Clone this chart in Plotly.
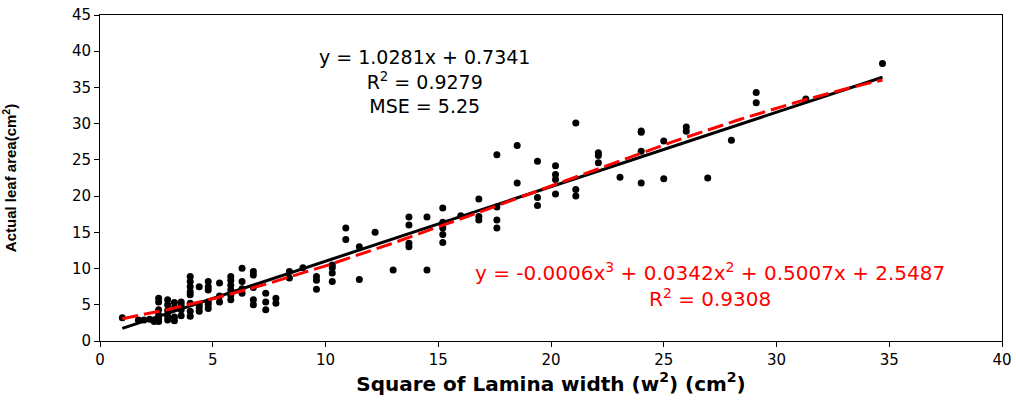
import numpy as np
import plotly.graph_objects as go

# Observed data: square of lamina width (w^2, cm^2) vs actual leaf area (cm^2)
w2 = [0.99,
      1.7, 1.95, 2.2, 2.4, 2.6, 2.6,
      2.6, 2.6, 2.6, 2.6,
      3.0, 3.0, 3.0, 3.0, 3.0,
      3.3, 3.3, 3.3, 3.3,
      3.6, 3.6, 3.6, 3.6,
      4.0, 4.0, 4.0, 4.0, 4.0, 4.0, 4.0, 4.0,
      4.4, 4.4, 4.4, 4.4,
      4.8, 4.8, 4.8, 4.8, 4.8, 4.8,
      5.3, 5.3, 5.3,
      5.8, 5.8, 5.8, 5.8, 5.8, 5.8,
      6.3, 6.3, 6.3, 6.3,
      6.8, 6.8, 6.8, 6.8, 6.8,
      7.35, 7.35, 7.35,
      7.8, 7.8,
      8.4, 8.4,
      9.0,
      9.6, 9.6, 9.6,
      10.3, 10.3, 10.3, 10.3,
      10.9, 10.9,
      11.5, 11.5,
      12.2,
      13.0,
      13.7, 13.7, 13.7, 13.7,
      14.5, 14.5,
      15.2, 15.2, 15.2, 15.2, 15.2,
      16.0,
      16.8, 16.8, 16.8,
      17.6, 17.6, 17.6, 17.6,
      18.5, 18.5,
      19.4, 19.4, 19.4,
      20.2, 20.2, 20.2, 20.2,
      21.1, 21.1, 21.1,
      22.1, 22.1, 22.1,
      23.06,
      24.0, 24.0, 24.0, 24.0,
      25.0, 25.0,
      26.0, 26.0,
      26.95,
      28.0,
      29.1, 29.1,
      31.3,
      34.7]
leaf_area = [3.2,
             2.9, 2.9, 3.0, 2.7, 3.1, 2.7,
             5.9, 5.4, 4.3, 3.6,
             5.7, 5.0, 4.2, 2.9, 3.4,
             5.3, 4.6, 3.3, 2.8,
             5.4, 5.0, 4.3, 3.5,
             8.9, 8.2, 7.5, 6.8, 6.4, 5.2, 4.1, 3.4,
             7.5, 5.0, 4.6, 4.1,
             8.2, 7.5, 7.05, 5.4, 5.0, 4.5,
             8.0, 6.2, 5.4,
             8.9, 8.4, 7.7, 7.05, 6.3, 5.7,
             10.05, 8.2, 7.2, 6.6,
             9.6, 9.1, 7.4, 5.7, 5.0,
             6.6, 5.4, 4.3,
             5.9, 5.2,
             9.6, 8.7,
             10.1,
             8.9, 8.4, 7.15,
             10.5, 10.1, 9.4, 8.2,
             15.6, 14.0,
             13.0, 8.5,
             15.0,
             9.8,
             17.1, 16.0, 13.5, 13.0,
             17.1, 9.8,
             18.35, 16.4, 15.6, 14.7, 13.6,
             17.3,
             19.6, 17.2, 16.7,
             25.7, 18.5, 16.7, 15.6,
             27.0, 21.8,
             24.8, 19.8, 18.7,
             24.2, 23.0, 22.3, 20.3,
             30.1, 20.9, 20.0,
             26.0, 25.6, 24.6,
             22.6,
             29.0, 28.8, 26.2, 21.8,
             27.6, 22.4,
             29.55, 28.95,
             22.5,
             27.7,
             34.3, 32.9,
             33.4,
             38.3]

# Trendline coefficients as printed on the chart
lin_coef = [1.0281, 0.7341]                      # slope, intercept
poly_coef = [-0.0006, 0.0342, 0.5007, 2.5487]    # x^3, x^2, x, const
fit_range = [min(w2), max(w2)]

x_ticks = [0, 5, 10, 15, 20, 25, 30, 35, 40]
y_ticks = [0, 5, 10, 15, 20, 25, 30, 35, 40, 45]

xf = np.linspace(fit_range[0], fit_range[1], 200)
y_lin = np.polyval(lin_coef, xf)
y_poly = np.polyval(poly_coef, xf)

FONT = "DejaVu Sans"

fig = go.Figure()
fig.add_trace(go.Scatter(x=w2, y=leaf_area, mode="markers",
                         marker=dict(color="black", size=7, symbol="circle"),
                         showlegend=False))
fig.add_trace(go.Scatter(x=xf, y=y_lin, mode="lines",
                         line=dict(color="black", width=3),
                         showlegend=False))
fig.add_trace(go.Scatter(x=xf, y=y_poly, mode="lines",
                         line=dict(color="#ff0000", width=3, dash="16px,6px"),
                         showlegend=False))

fig.add_annotation(x=14.37, y=35.8, xref="x", yref="y", showarrow=False,
                   text="y = 1.0281x + 0.7341<br>R<sup>2</sup> = 0.9279<br>MSE = 5.25",
                   align="center",
                   font=dict(family=FONT, size=19, color="black"))
fig.add_annotation(x=27.05, y=7.7, xref="x", yref="y", showarrow=False,
                   text="y = -0.0006x<sup>3</sup> + 0.0342x<sup>2</sup> + 0.5007x + 2.5487"
                        "<br>R<sup>2</sup> = 0.9308",
                   align="center",
                   font=dict(family=FONT, size=20, color="#ff0000"))

axis_common = dict(showgrid=False, zeroline=False, showline=True,
                   linecolor="black", linewidth=1, mirror=True,
                   ticks="outside", ticklen=5, tickcolor="black",
                   automargin=False, ticklabeloverflow="allow",
                   tickfont=dict(family=FONT, size=15, color="black"))

fig.update_xaxes(range=[0, 40], tickvals=x_ticks,
                 ticktext=[str(v) for v in x_ticks],
                 title=dict(text="<b>Square of Lamina width (w<sup>2</sup>) (cm<sup>2</sup>)</b>",
                            font=dict(family=FONT, size=20, color="black"),
                            standoff=8),
                 **axis_common)
fig.update_yaxes(range=[0, 45], tickvals=y_ticks,
                 ticktext=[str(v) for v in y_ticks],
                 title=dict(text="<b>Actual leaf area(cm<sup>2</sup>)</b>",
                            font=dict(family="Liberation Sans", size=15, color="black"),
                            standoff=57),
                 **axis_common)

fig.update_layout(width=1016, height=403,
                  margin=dict(l=100, r=14, t=15, b=62),
                  paper_bgcolor="white", plot_bgcolor="white")

# remove the browser's default 8px page margin so the figure fills the window
fig.write_html("out.html",
               config={"displayModeBar": False},
               post_script="document.body.style.margin='0';")
